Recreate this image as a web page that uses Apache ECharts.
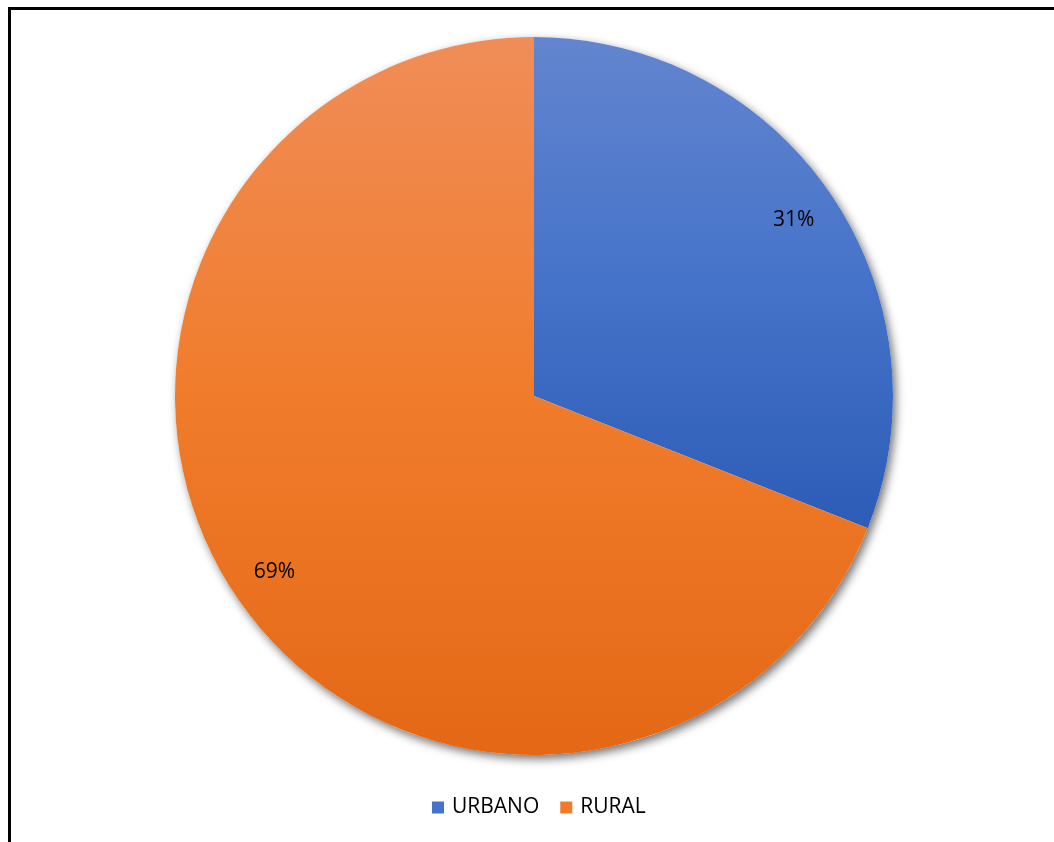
<!DOCTYPE html>
<html>
<head>
<meta charset="utf-8">
<script src="https://cdn.jsdelivr.net/npm/echarts@6/dist/echarts.min.js"></script>
<style>
  html, body { margin: 0; padding: 0; background: #ffffff; }
  #frame { position: absolute; left: 8px; top: 7px; width: 1060px; height: 860px;
           border-left: 3px solid #000; border-top: 3px solid #000; box-sizing: border-box; }
  #chart { position: absolute; left: 0; top: 0; width: 1054px; height: 842px; }
</style>
</head>
<body>
<div id="frame"></div>
<div id="chart"></div>
<script>
// Population share by area
const categories = ['URBANO', 'RURAL'];
const shares = [31, 69];

const sliceColors = [
  ['#6385cf', '#4573c9', '#2d5cb7'],
  ['#f08d58', '#f07c2b', '#e46816']
];

const FONT = 'Open Sans';
const CENTER = [534, 396];
const R = 359;

const chart = echarts.init(document.getElementById('chart'), null, { renderer: 'canvas' });

const fill = (c) => new echarts.graphic.LinearGradient(0, 0, 0, 1, [
  { offset: 0, color: c[0] },
  { offset: 0.5, color: c[1] },
  { offset: 1, color: c[2] }
]);

const pieData = categories.map((name, i) => ({
  name,
  value: shares[i],
  itemStyle: { color: fill(sliceColors[i]) }
}));

chart.setOption({
  animation: false,
  legend: {
    data: categories.map((name, i) => ({ name, itemStyle: { color: sliceColors[i][1] } })),
    left: 427,
    top: 792,
    itemWidth: 12,
    itemHeight: 12,
    itemGap: 21,
    icon: 'rect',
    textStyle: { fontFamily: FONT, fontSize: 21, color: '#000', padding: [0, 0, 0, 3] }
  },
  series: [
    {
      // soft drop shadow behind the whole disc
      type: 'pie',
      silent: true,
      center: CENTER,
      radius: R,
      z: 1,
      startAngle: 90,
      label: { show: false },
      labelLine: { show: false },
      itemStyle: {
        color: '#ffffff',
        shadowBlur: 10,
        shadowOffsetX: 3,
        shadowOffsetY: 4,
        shadowColor: 'rgba(0,0,0,0.55)'
      },
      data: [{ name: '', value: 1 }]
    },
    {
      type: 'pie',
      center: CENTER,
      radius: R,
      z: 2,
      startAngle: 90,
      clockwise: true,
      silent: true,
      label: { show: false },
      labelLine: { show: false },
      itemStyle: { borderWidth: 0 },
      data: pieData
    },
    {
      // percentage labels placed at ~0.87 of the radius
      type: 'pie',
      center: CENTER,
      radius: [R * 0.732, R],
      z: 3,
      startAngle: 90,
      clockwise: true,
      silent: true,
      itemStyle: { color: 'rgba(0,0,0,0)' },
      label: {
        show: true,
        position: 'inside',
        formatter: (p) => p.value + '%',
        fontFamily: FONT,
        fontSize: 21,
        color: '#000'
      },
      labelLine: { show: false },
      data: categories.map((name, i) => ({ name, value: shares[i] }))
    }
  ]
});
</script>
</body>
</html>
